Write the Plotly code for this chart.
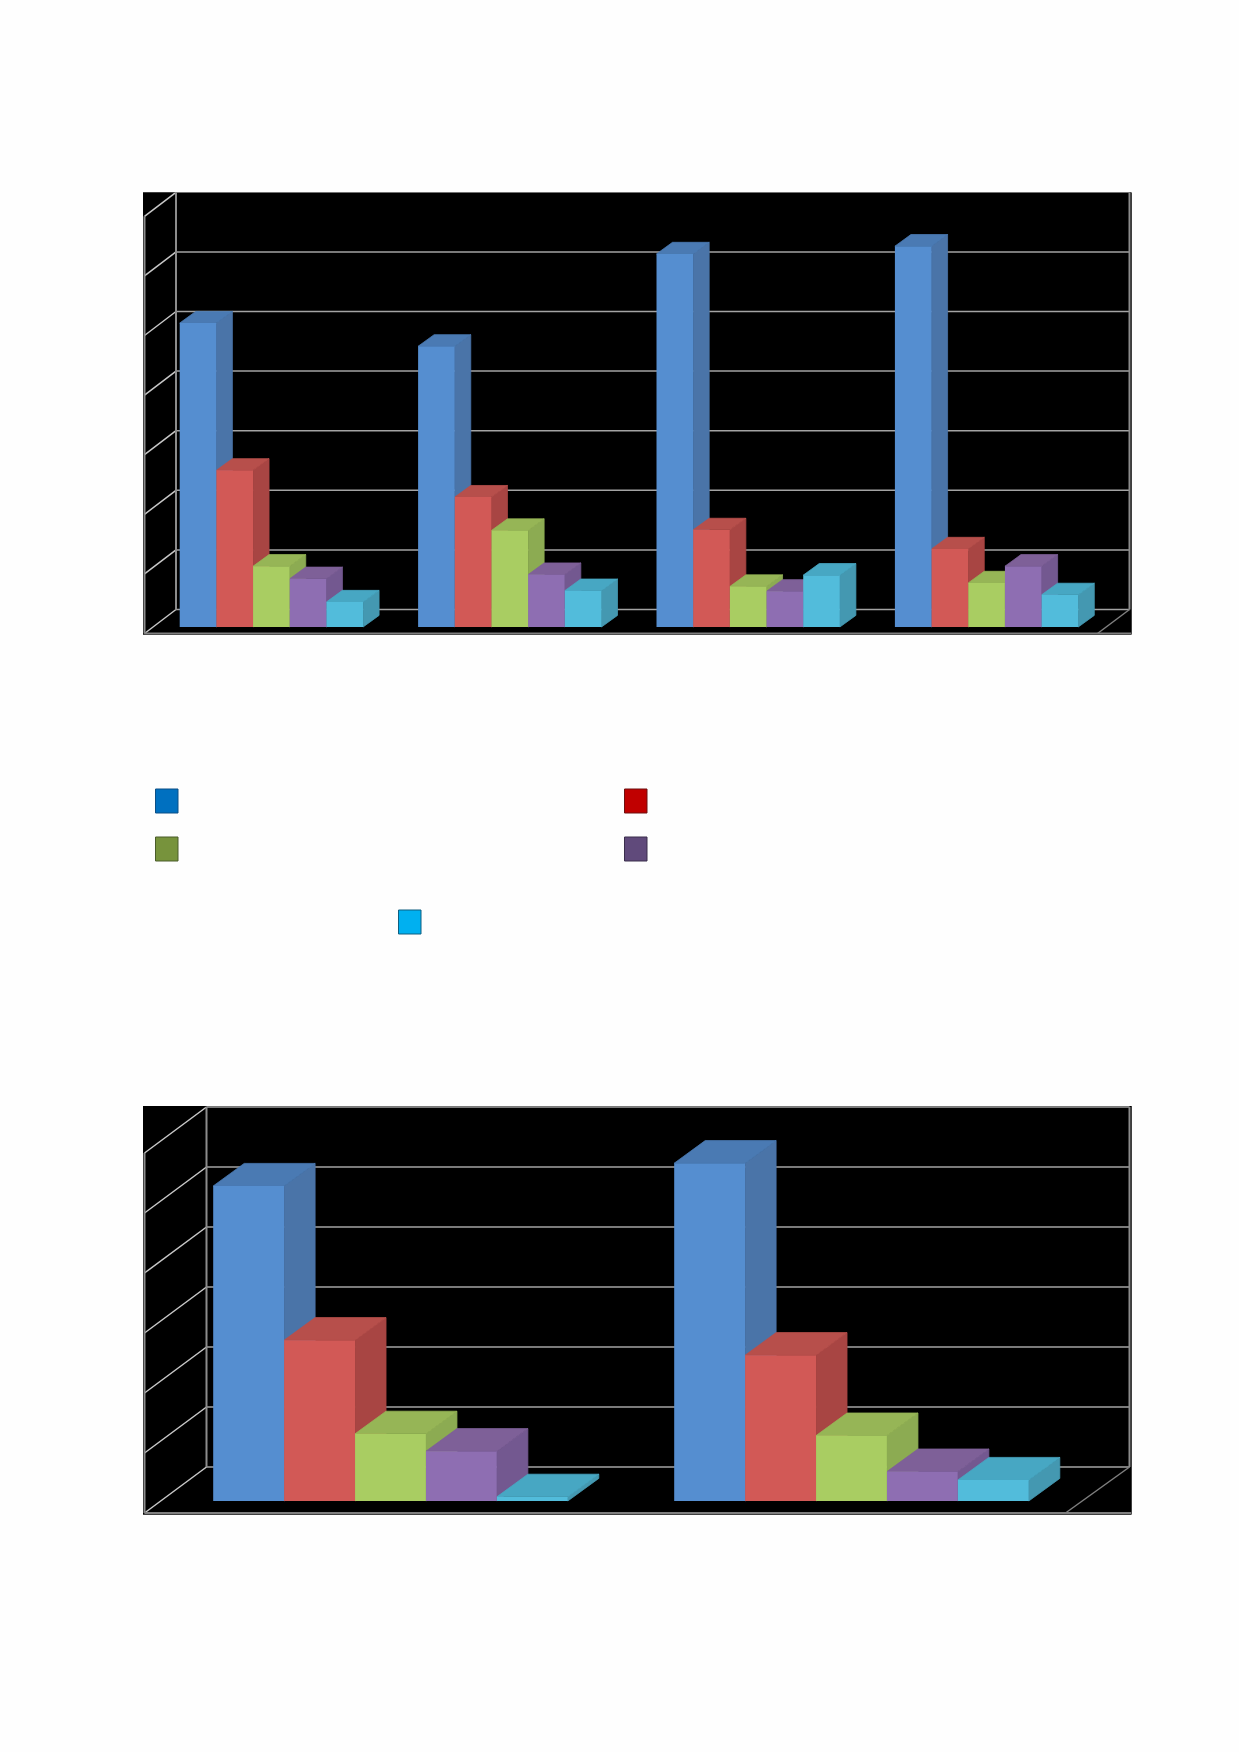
import plotly.graph_objects as go

PAGE_W, PAGE_H = 1239, 1752

# Chart 1 values: one list per series, one value per category
categories_1 = [0, 1, 2, 3]
c1_blue = [5.10, 4.71, 6.26, 6.39]
c1_red = [2.63, 2.18, 1.63, 1.31]
c1_green = [1.02, 1.62, 0.68, 0.74]
c1_purple = [0.81, 0.88, 0.60, 1.02]
c1_cyan = [0.42, 0.61, 0.87, 0.54]

# Chart 2 values
categories_2 = [0, 1]
c2_blue = [5.25, 5.63]
c2_red = [2.68, 2.43]
c2_green = [1.12, 1.09]
c2_purple = [0.83, 0.49]
c2_cyan = [0.07, 0.35]

grid_steps_1 = [0, 1, 2, 3, 4, 5, 6, 7]
grid_steps_2 = [0, 1, 2, 3, 4, 5, 6]

# Styles: (front, side, top)
series_colors = [
    ("#558ED0", "#4A74A8", "#4A7AB3"),
    ("#D25956", "#A84543", "#B74F4B"),
    ("#A9CD62", "#8CAB52", "#96B556"),
    ("#8E6EB2", "#735890", "#7E6098"),
    ("#52BCDB", "#4498B1", "#47A7C3"),
]
legend_swatches = [
    (155.5, 789, "#0070C0", "#0B4F86"),
    (624.5, 789, "#C00000", "#6E1010"),
    (155.5, 837, "#77933C", "#4A5C2A"),
    (624.5, 837, "#604A7B", "#3A2E4C"),
    (398.5, 910, "#00B0F0", "#0F5F80"),
]
SWATCH_W, SWATCH_H = 22.5, 24

GRID = "#A3A3A3"
WALL = "#8C8C8C"
DIAG = "#C8C8C8"
FLOOR = "#7F7F7F"
BAR_W = 1 / 6.5

charts = [
    dict(values=[c1_blue, c1_red, c1_green, c1_purple, c1_cyan], cats=categories_1, grid=grid_steps_1,
         panel=(143, 1131.5, 192.5, 634.5), center0=271.4, per_cat=238.4, base=627.0, unit=59.6,
         wall_dx=32, wall_dy=24, bar_dx=16, bar_dy=11.6, floor_y=633.5, back_right=1129.5, back_left=176.0,
         front_left=144.5, floor_right_dx=32),
    dict(values=[c2_blue, c2_red, c2_green, c2_purple, c2_cyan], cats=categories_2, grid=grid_steps_2,
         panel=(143, 1131.5, 1106, 1514.5), center0=390.5, per_cat=461.0, base=1501.0, unit=60.0,
         wall_dx=63, wall_dy=46, bar_dx=31, bar_dy=22.6, floor_y=1513.0, back_right=1129.5, back_left=206.5,
         front_left=144.5, floor_right_dx=64),
]

fig = go.Figure()


def line_trace(xs, ys, color, width, ax):
    return go.Scatter(x=xs, y=ys, mode="lines", line=dict(color=color, width=width),
                      hoverinfo="skip", showlegend=False, xaxis=ax[0], yaxis=ax[1], zorder=0)


for idx, ch in enumerate(charts):
    suffix = "" if idx == 0 else "2"
    ax = ("x" + suffix, "y" + suffix)
    left, right, top, bottom = ch["panel"]
    to_x = lambda px: (px - ch["center0"]) / ch["per_cat"]
    to_y = lambda px: (ch["base"] - px) / ch["unit"]
    wdy = ch["wall_dy"] / ch["unit"]
    floor_front = to_y(ch["floor_y"])
    floor_back = floor_front + wdy
    xl_back, xl_front, xr_back = to_x(ch["back_left"]), to_x(ch["front_left"]), to_x(ch["back_right"])
    grid_top = floor_back + ch["grid"][-1]

    # Back wall gridlines and left-wall diagonals
    for g in ch["grid"]:
        fig.add_trace(line_trace([xl_back, xr_back], [floor_back + g] * 2, GRID, 1.5, ax))
        fig.add_trace(line_trace([xl_front, xl_back], [floor_front + g, floor_back + g], DIAG, 1.5, ax))
    # Wall edges
    fig.add_trace(line_trace([xl_back, xl_back], [floor_back, grid_top], WALL, 2, ax))
    fig.add_trace(line_trace([xr_back, xr_back], [floor_back, grid_top], WALL, 2, ax))
    fig.add_trace(line_trace([xl_front, xl_front], [floor_front, floor_front + ch["grid"][-1]], WALL, 2, ax))
    fig.add_trace(line_trace([xl_front, to_x(right)], [floor_front, floor_front], FLOOR, 2, ax))
    fig.add_trace(line_trace([xr_back - ch["floor_right_dx"] / ch["per_cat"], xr_back],
                             [floor_front, floor_back], FLOOR, 1.5, ax))

    bdx = ch["bar_dx"] / ch["per_cat"]
    bdy = ch["bar_dy"] / ch["unit"]
    # Side and top faces, painted series by series; a thin same-colour stroke closes the seams
    for s, vals in enumerate(ch["values"]):
        front, side, topc = series_colors[s]
        off = (s - 2.5) * BAR_W
        sx, sy, tx, ty = [], [], [], []
        for c, v in zip(ch["cats"], vals):
            x0 = c + off
            x1 = x0 + BAR_W
            sx += [x1, x1 + bdx, x1 + bdx, x1, x1, None]
            sy += [0, bdy, v + bdy, v, 0, None]
            tx += [x0, x1, x1 + bdx, x0 + bdx, x0, None]
            ty += [v, v, v + bdy, v + bdy, v, None]
        for xs, ys, col in ((sx, sy, side), (tx, ty, topc)):
            fig.add_trace(go.Scatter(x=xs, y=ys, mode="lines", fill="toself", fillcolor=col,
                                     line=dict(width=0.8, color=col), hoverinfo="skip",
                                     showlegend=False, xaxis=ax[0], yaxis=ax[1], zorder=0))
    # Front faces as real bars
    for s, vals in enumerate(ch["values"]):
        fig.add_trace(go.Bar(x=ch["cats"], y=vals, width=BAR_W, offset=(s - 2.5) * BAR_W,
                             marker=dict(color=series_colors[s][0], line=dict(width=0)),
                             showlegend=False, xaxis=ax[0], yaxis=ax[1], zorder=1))

    fig.update_layout({
        "xaxis" + suffix: dict(domain=[left / PAGE_W, right / PAGE_W], range=[to_x(left), to_x(right)],
                               visible=False, anchor="y" + suffix, fixedrange=True),
        "yaxis" + suffix: dict(domain=[1 - bottom / PAGE_H, 1 - top / PAGE_H], range=[to_y(bottom), to_y(top)],
                               visible=False, anchor="x" + suffix, fixedrange=True),
    })

shapes = []
for x, y, fill, edge in legend_swatches:
    shapes.append(dict(type="rect", xref="paper", yref="paper", x0=x / PAGE_W, x1=(x + SWATCH_W) / PAGE_W,
                       y0=1 - y / PAGE_H, y1=1 - (y + SWATCH_H) / PAGE_H,
                       fillcolor=fill, line=dict(color=edge, width=1)))

fig.update_layout(width=PAGE_W, height=PAGE_H, autosize=False, margin=dict(l=0, r=0, t=0, b=0),
                  paper_bgcolor="#FEFEFE", plot_bgcolor="#000000", barmode="overlay",
                  showlegend=False, shapes=shapes, font=dict(family="Liberation Sans"))

fig.write_html("out.html", config={"displayModeBar": False, "responsive": False},
               post_script="document.body.style.margin='0';document.body.style.overflow='hidden';")
